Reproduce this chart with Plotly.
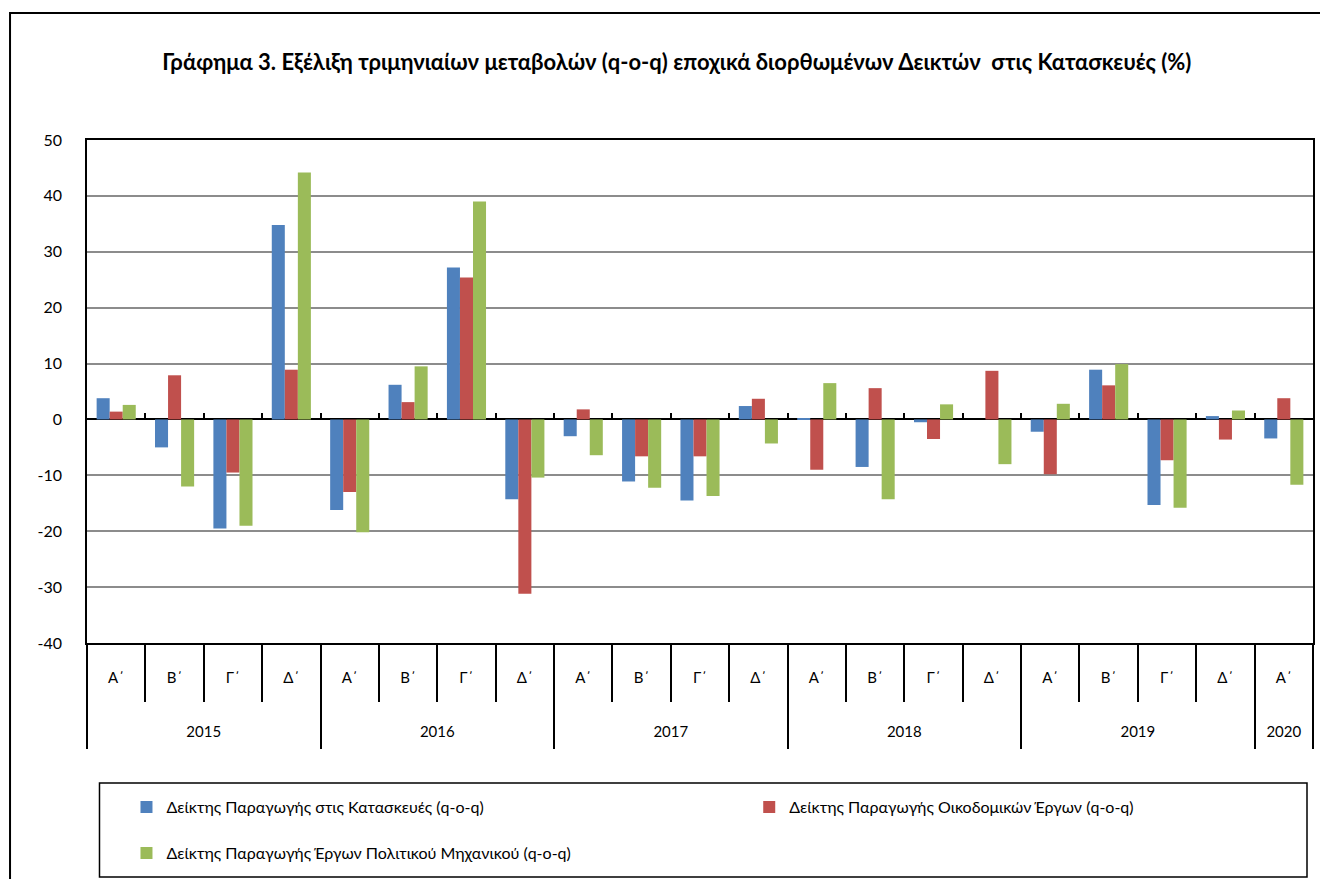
import plotly.graph_objects as go

years = ["2015"] * 4 + ["2016"] * 4 + ["2017"] * 4 + ["2018"] * 4 + ["2019"] * 4 + ["2020"]
quarters = ["Α΄", "Β΄", "Γ΄", "Δ΄"] * 5 + ["Α΄"]

construction = [3.8, -5.0, -19.5, 34.8, -16.2, 6.2, 27.2, -14.3,
                -3.0, -11.1, -14.5, 2.4, 0.2, -8.5, -0.5, 0.0,
                -2.2, 8.9, -15.3, 0.6, -3.4]
building = [1.4, 7.9, -9.5, 8.9, -13.0, 3.1, 25.4, -31.2,
            1.8, -6.6, -6.6, 3.7, -9.0, 5.6, -3.5, 8.7,
            -9.8, 6.1, -7.3, -3.6, 3.8]
civil = [2.6, -12.0, -19.0, 44.2, -20.2, 9.5, 39.0, -10.4,
         -6.4, -12.2, -13.7, -4.3, 6.5, -14.3, 2.7, -8.0,
         2.8, 9.9, -15.8, 1.6, -11.7]

y_ticks = [-40, -30, -20, -10, 0, 10, 20, 30, 40, 50]

names = ["Δείκτης Παραγωγής στις Κατασκευές (q-o-q)",
         "Δείκτης Παραγωγής Οικοδομικών Έργων (q-o-q)",
         "Δείκτης Παραγωγής Έργων Πολιτικού Μηχανικού (q-o-q)"]
colors = ["#4F81BD", "#C0504D", "#9BBB59"]
title = "Γράφημα 3. Εξέλιξη τριμηνιαίων μεταβολών (q-o-q) εποχικά διορθωμένων Δεικτών  στις Κατασκευές (%)"

FONT = "Lato, Carlito, 'Open Sans', sans-serif"

# category positions and year-group geometry derived from the data lists
idx = list(range(len(quarters)))
year_names = []
year_start = []
for i, y in enumerate(years):
    if not year_names or year_names[-1] != y:
        year_names.append(y)
        year_start.append(i)
year_end = year_start[1:] + [len(years)]
year_centers = [(s + e - 1) / 2 for s, e in zip(year_start, year_end)]
year_bounds = [s - 0.5 for s in year_start] + [len(years) - 0.5]
inner_bounds = [i + 0.5 for i in idx[:-1]]
xr = [-0.5, len(years) - 0.5]

fig = go.Figure()
legends = ["legend", "legend2", "legend3"]
for vals, nm, col, lg in zip([construction, building, civil], names, colors, legends):
    fig.add_trace(go.Bar(
        x=idx, y=vals, name=nm,
        marker=dict(color=col, line=dict(width=0)),
        legend=lg,
    ))

OFF = 8  # page body margin
W, H = 1328 - OFF, 879 - OFF
L, R, T, B = 86.5 - OFF, 1328 - 1313, 140 - OFF, 879 - 643
pw, ph = W - L - R, H - T - B

def px_x(p):
    return (p - OFF - L) / pw

def px_y(p):
    return (H - B - (p - OFF)) / ph

ymin, ymax = y_ticks[0], y_ticks[-1]

leg_common = dict(orientation="h", xanchor="left", yanchor="middle",
                  font=dict(size=16), bgcolor="rgba(0,0,0,0)", borderwidth=0)

fig.update_layout(
    width=W, height=H,
    margin=dict(l=L, r=R, t=T, b=B, autoexpand=False),
    paper_bgcolor="white", plot_bgcolor="white",
    font=dict(family=FONT, size=15, color="black"),
    barmode="group", bargap=0.33, bargroupgap=0,
    title=dict(text="<b>" + title + "</b>", x=px_x(676.5), xanchor="center",
               xref="paper", y=1 - (62 - OFF) / H, yanchor="middle",
               font=dict(family=FONT, size=22, color="black")),
    legend=dict(x=px_x(126), y=px_y(807), **leg_common),
    legend2=dict(x=px_x(749), y=px_y(807), **leg_common),
    legend3=dict(x=px_x(126), y=px_y(853), **leg_common),
    showlegend=True,
)

fig.update_yaxes(range=[ymin, ymax], tickmode="array", tickvals=y_ticks,
                 ticktext=[str(v) for v in y_ticks],
                 showgrid=True, gridcolor="#8C8C8C", gridwidth=1.5,
                 zeroline=True, zerolinecolor="black", zerolinewidth=1.5,
                 showline=True, linecolor="black", linewidth=1.5, mirror=True,
                 ticks="", ticklabelstandoff=20, tickfont=dict(size=16))

# quarter labels row
fig.update_xaxes(range=xr, tickmode="array", tickvals=idx, ticktext=quarters,
                 showline=True, linecolor="black", linewidth=1.5, mirror=True,
                 ticks="", ticklabelstandoff=20, tickfont=dict(size=15), showgrid=False, zeroline=False,
                 minor=dict(tickmode="array", tickvals=inner_bounds, ticks="outside",
                            ticklen=57, tickcolor="black", tickwidth=1.5, showgrid=False))

# year labels row
fig.update_layout(
    xaxis2=dict(overlaying="x", anchor="y", side="bottom", range=xr,
                tickmode="array", tickvals=year_centers, ticktext=year_names,
                ticks="", ticklabelstandoff=78, tickfont=dict(size=15),
                showline=False, showgrid=False, zeroline=False,
                minor=dict(tickmode="array", tickvals=year_bounds, ticks="outside",
                           ticklen=105, tickcolor="black", tickwidth=1.5, showgrid=False)),
    xaxis3=dict(overlaying="x", anchor="free", position=(0 - ymin) / (ymax - ymin), side="bottom",
                range=xr, showticklabels=False, showline=False, showgrid=False, zeroline=False,
                tickmode="array", tickvals=[],
                minor=dict(tickmode="array", tickvals=inner_bounds, ticks="inside",
                           ticklen=6, tickcolor="black", tickwidth=1.5, showgrid=False)),
)
# attach an invisible trace to the extra axes so they render
for ax in ["x2", "x3"]:
    fig.add_trace(go.Scatter(x=[xr[0]], y=[0], xaxis=ax, yaxis="y", mode="markers",
                             marker=dict(opacity=0), showlegend=False, hoverinfo="skip"))

# chart-area border and legend box
fig.add_shape(type="rect", xref="paper", yref="paper",
              x0=px_x(9.5), x1=px_x(1340), y0=px_y(13), y1=px_y(900),
              line=dict(color="black", width=2), layer="below")
fig.add_shape(type="rect", xref="paper", yref="paper",
              x0=px_x(99), x1=px_x(1307), y0=px_y(783), y1=px_y(877),
              line=dict(color="black", width=1.5))

fig.write_html("out.html")
